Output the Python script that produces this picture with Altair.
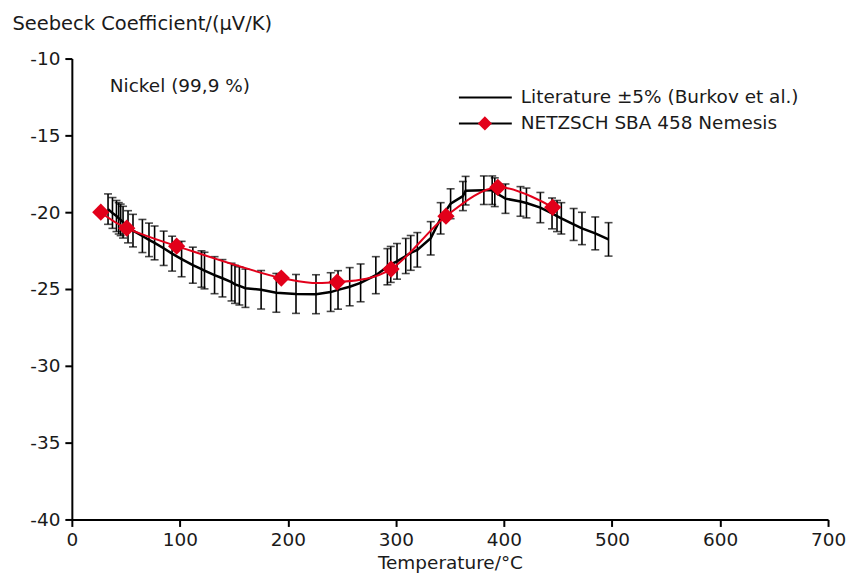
import altair as alt
import pandas as pd

# Literature (Burkov et al.) data, ±5 % error bars
lit_T = [33.5, 37.6, 41.3, 43.4, 45.2, 47.4, 52.0, 56.6, 65.3, 71.4, 76.6, 85.0, 92.8,
         101.6, 112.0, 120.0, 122.8, 132.1, 139.4, 147.8, 151.0, 155.1, 160.7, 175.2,
         189.3, 207.5, 226.0, 239.6, 246.4, 257.2, 267.3, 281.4, 292.1, 295.2, 301.0,
         309.1, 313.7, 319.8, 332.2, 341.4, 350.6, 362.0, 364.5, 381.4, 389.1, 391.5,
         401.4, 415.3, 420.8, 433.7, 444.5, 449.1, 453.1, 464.5, 472.2, 484.5, 496.8]
lit_S = [-19.80, -20.05, -20.25, -20.40, -20.50, -20.65, -20.95, -21.20, -21.55, -21.80,
         -22.00, -22.35, -22.70, -23.05, -23.45, -23.70, -23.80, -24.10, -24.30, -24.55,
         -24.70, -24.80, -24.95, -25.05, -25.25, -25.32, -25.34, -25.20, -25.06, -24.85,
         -24.60, -24.10, -23.55, -23.40, -23.20, -22.85, -22.65, -22.45, -21.70, -20.40,
         -19.45, -18.95, -18.60, -18.57, -18.57, -18.70, -19.12, -19.30, -19.40, -19.70,
         -20.08, -20.25, -20.40, -20.80, -21.06, -21.38, -21.77]

# NETZSCH SBA 458 Nemesis measurement
sba_T = [26.8, 50.8, 97.0, 193.9, 245.6, 295.5, 346.3, 394.3, 445.1]
sba_S = [-20.00, -21.04, -22.21, -24.29, -24.55, -23.70, -20.26, -18.38, -19.68]

x_ticks = [0, 100, 200, 300, 400, 500, 600, 700]
y_ticks = [-10, -15, -20, -25, -30, -35, -40]

FONT = "DejaVu Sans"
FS = 18.5
TXT = "#1a1a1a"
RED = "#e2001a"

lit = pd.DataFrame({"T": lit_T, "S": lit_S})
sba = pd.DataFrame({"T": sba_T, "S": sba_S})

xs = alt.Scale(domain=[0, 700], nice=False)
ys = alt.Scale(domain=[-40, -10], nice=False)

common = dict(grid=False, domainColor="black", domainWidth=2, tickColor="black",
              tickWidth=2, tickSize=7, labelFontSize=FS, labelFont=FONT, labelColor=TXT,
              labelFlush=False, labelOverlap=False, labelExpr="toString(datum.value)",
              titleFont=FONT, titleFontWeight="normal", titleColor=TXT)

x_axis = alt.Axis(values=x_ticks, title="Temperature/°C", labelPadding=4,
                  titleFontSize=FS, titleBaseline="alphabetic", titleY=49, **common)
y_axis = alt.Axis(values=y_ticks, title="Seebeck Coefficient/(µV/K)", labelPadding=5,
                  titleFontSize=19.5, titleAngle=0, titleAlign="left",
                  titleBaseline="alphabetic", titleX=-60, titleY=-29, **common)

base_lit = alt.Chart(lit)

lit_line = base_lit.mark_line(color="black", strokeWidth=2.5).encode(
    x=alt.X("T:Q", scale=xs, axis=x_axis),
    y=alt.Y("S:Q", scale=ys, axis=y_axis),
)

err = base_lit.transform_calculate(
    lo="datum.S * 1.05", hi="datum.S * 0.95"
)
err_rule = err.mark_rule(color="black", strokeWidth=1.6).encode(
    x="T:Q", y="lo:Q", y2="hi:Q")
cap_lo = err.mark_tick(color="black", orient="horizontal", size=8, thickness=1.6).encode(
    x="T:Q", y="lo:Q")
cap_hi = err.mark_tick(color="black", orient="horizontal", size=8, thickness=1.6).encode(
    x="T:Q", y="hi:Q")

sba_line = alt.Chart(sba).mark_line(color=RED, strokeWidth=2, interpolate="cardinal").encode(
    x="T:Q", y="S:Q")
sba_pts = alt.Chart(sba).mark_point(shape="diamond", filled=True, color=RED, size=300,
                                    opacity=1).encode(x="T:Q", y="S:Q")

# annotation & legend
one = pd.DataFrame({"a": [0]})
note = alt.Chart(one).mark_text(text="Nickel (99,9 %)", font=FONT, fontSize=FS, color=TXT,
                                align="left", baseline="alphabetic").encode(
    x=alt.value(38), y=alt.value(34))
leg1_line = alt.Chart(one).mark_rule(color="black", strokeWidth=2).encode(
    x=alt.value(388), x2=alt.value(441), y=alt.value(39))
leg1_txt = alt.Chart(one).mark_text(text="Literature ±5% (Burkov et al.)", font=FONT,
                                    fontSize=FS, color=TXT, align="left",
                                    baseline="middle").encode(x=alt.value(450), y=alt.value(39))
leg2_line = alt.Chart(one).mark_rule(color="black", strokeWidth=2).encode(
    x=alt.value(388), x2=alt.value(441), y=alt.value(65))
leg2_pt = alt.Chart(one).mark_point(shape="diamond", filled=True, color=RED, size=200,
                                    opacity=1).encode(x=alt.value(414), y=alt.value(65))
leg2_txt = alt.Chart(one).mark_text(text="NETZSCH SBA 458 Nemesis", font=FONT, fontSize=FS,
                                    color=TXT, align="left", baseline="middle").encode(
    x=alt.value(450), y=alt.value(65))

chart = alt.layer(
    lit_line, err_rule, cap_lo, cap_hi, sba_line, sba_pts,
    note, leg1_line, leg1_txt, leg2_line, leg2_pt, leg2_txt
).properties(
    width=758, height=462,
    autosize=alt.AutoSizeParams(type="none"),
    padding={"left": 64, "top": 50, "right": 20, "bottom": 53},
).configure(background="white").configure_view(stroke=None)

chart.save("out.html", embed_options={"renderer": "svg", "actions": False})
